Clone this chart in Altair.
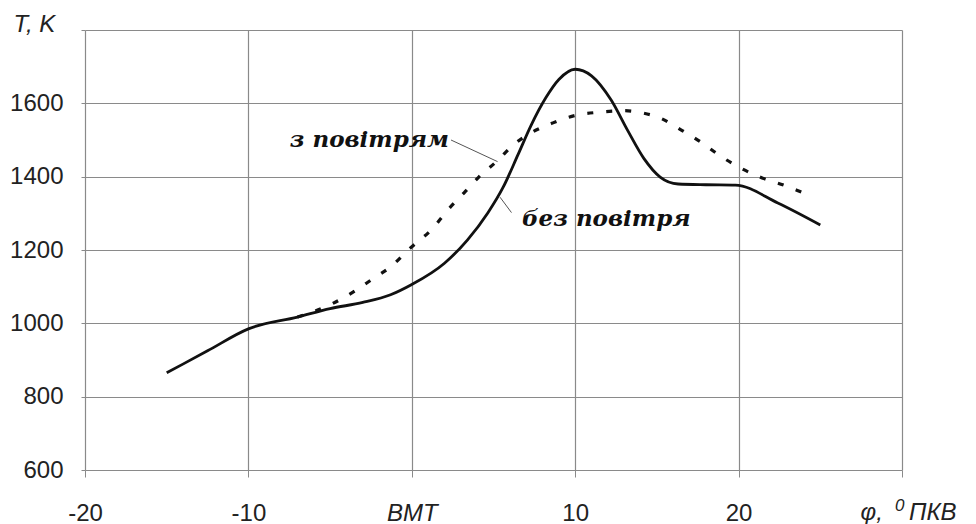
import altair as alt
import pandas as pd

# Gas temperature vs crank angle, without / with air
phi_no_air = [-15, -12.5, -10, -7, -5, -3, -1.3, 0, 2, 3.4, 4.65, 5.6, 6.5, 7.3,
              8.2, 9.0, 10, 11.0, 12.2, 13.2, 14.2, 15.2, 16.3, 18, 19.8, 22.4, 25]
t_no_air = [865, 925, 985, 1017, 1040, 1057, 1078, 1106, 1164, 1227, 1301, 1372, 1460, 1540,
            1615, 1665, 1693, 1675, 1609, 1527, 1450, 1399, 1380, 1378, 1377, 1328, 1268]

phi_air = [-7, -6, -4.8, -3.6, -2.4, -1.3, -0.1, 1.3, 2.2, 3.2, 4.1, 5.2, 6.2, 7.4,
           8.6, 10.1, 11.5, 13, 14.2, 15.2, 16.5, 17.7, 18.9, 20.1, 21.3, 22.75, 24.0, 24.4]
t_air = [1017, 1032, 1055, 1085, 1121, 1154, 1205, 1260, 1309, 1356, 1399, 1442, 1486, 1522,
         1546, 1568, 1576, 1580, 1573, 1560, 1527, 1494, 1456, 1424, 1399, 1377, 1355, 1348]

x_ticks = [-20, -10, 0, 10, 20, 30]
y_ticks = [600, 800, 1000, 1200, 1400, 1600, 1800]

label_text = ["з повітрям", "без повітря"]
label_phi = [-2.6, 11.9]
label_t = [1500, 1284]

leader_phi = [2.4, 5.4]
leader_t = [1500, 1344]
leader_phi2 = [5.25, 6.1]
leader_t2 = [1441, 1302]

no_air = pd.DataFrame({"phi": phi_no_air, "T": t_no_air})
air = pd.DataFrame({"phi": phi_air, "T": t_air})
labels = pd.DataFrame({"text": label_text, "phi": label_phi, "T": label_t})
leaders = pd.DataFrame({"phi": leader_phi, "T": leader_t, "phi2": leader_phi2, "T2": leader_t2})

x_scale = alt.Scale(domain=[-20, 30], nice=False, zero=False)
y_scale = alt.Scale(domain=[600, 1800], nice=False, zero=False)

AXIS_FONT = "Liberation Sans"
INK = "#222222"
GRID = "#8a8a8a"

x_axis = alt.Axis(
    values=x_ticks,
    labelExpr="datum.value == 0 ? 'BMT' : (datum.value == 30 ? '' : '' + datum.value)",
    labelFontStyle={"condition": {"test": "datum.value === 0", "value": "italic"}, "value": "normal"},
    labelFont=AXIS_FONT, labelFontSize=24, labelColor=INK, labelPadding=24,
    labelFlush=False,
    grid=True, gridColor=GRID, gridWidth=1.2,
    domain=False, ticks=True, tickSize=7, tickColor=GRID,
    title="φ,", titleFont=AXIS_FONT, titleFontSize=24, titleFontStyle="italic",
    titleFontWeight="normal", titleColor=INK, titleAlign="left", titleBaseline="middle",
    titleX=775, titleY=42,
)
y_axis = alt.Axis(
    values=y_ticks,
    labelExpr="datum.value == 1800 ? '' : '' + datum.value",
    labelFont=AXIS_FONT, labelFontSize=24, labelColor=INK, labelPadding=18,
    grid=True, gridColor=GRID, gridWidth=1.2,
    domain=False, ticks=True, tickSize=4, tickColor=GRID,
    title="T, K", titleFont=AXIS_FONT, titleFontSize=24, titleFontStyle="italic",
    titleFontWeight="normal", titleColor=INK, titleAngle=0, titleAlign="left",
    titleBaseline="middle", titleX=-72, titleY=-6,
)

base_no_air = alt.Chart(no_air).mark_line(
    color="#111111", strokeWidth=2.8, interpolate="monotone"
).encode(
    x=alt.X("phi:Q", scale=x_scale, axis=x_axis),
    y=alt.Y("T:Q", scale=y_scale, axis=y_axis),
)

line_air = alt.Chart(air).mark_line(
    color="#111111", strokeWidth=3.2, strokeDash=[6, 13], interpolate="monotone"
).encode(x=alt.X("phi:Q", scale=x_scale), y=alt.Y("T:Q", scale=y_scale))

leader_rules = alt.Chart(leaders).mark_rule(color="#555555", strokeWidth=1).encode(
    x=alt.X("phi:Q", scale=x_scale), y=alt.Y("T:Q", scale=y_scale),
    x2="phi2:Q", y2="T2:Q",
)

text = alt.Chart(labels).mark_text(
    font="DejaVu Serif", fontSize=23, fontWeight="bold", fontStyle="italic",
    color="#111111", align="center", baseline="middle",
).encode(x=alt.X("phi:Q", scale=x_scale), y=alt.Y("T:Q", scale=y_scale), text="text:N")

# rest of the x-axis title: raised degree zero and the unit
unit_zero = alt.Chart(pd.DataFrame({"t": ["0"]})).mark_text(
    font=AXIS_FONT, fontSize=17, fontStyle="italic", color=INK, align="left", baseline="middle"
).encode(x=alt.value(810), y=alt.value(476), text="t:N")
unit_name = alt.Chart(pd.DataFrame({"t": ["ПКВ"]})).mark_text(
    font=AXIS_FONT, fontSize=24, fontStyle="italic", color=INK, align="left", baseline="middle"
).encode(x=alt.value(824), y=alt.value(483), text="t:N")

chart = alt.layer(base_no_air, line_air, leader_rules, text, unit_zero, unit_name).properties(
    width=817, height=440,
    autosize=alt.AutoSizeParams(type="none"),
    padding={"left": 85, "top": 30, "right": 74, "bottom": 54},
    background="white",
).configure_view(stroke=None)

chart.save("out.html", embed_options={"renderer": "svg", "actions": False})
